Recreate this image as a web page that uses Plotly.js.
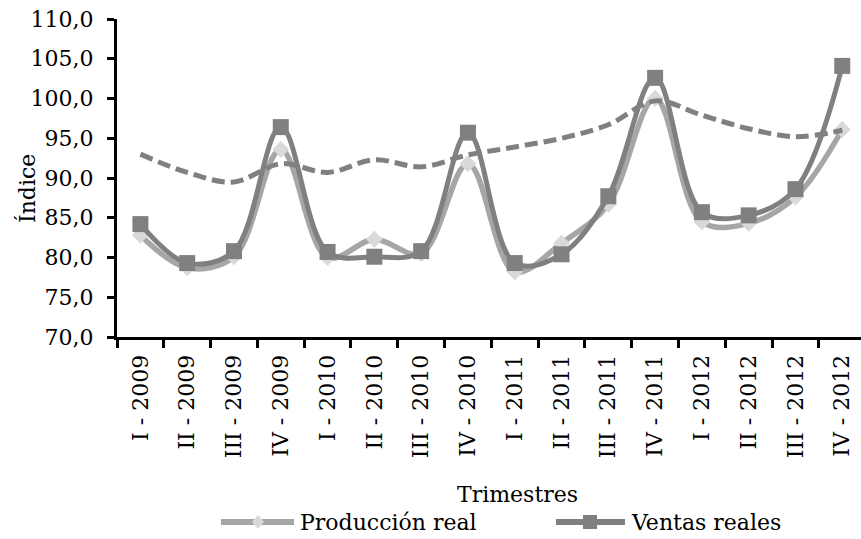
<!DOCTYPE html>
<html>
<head>
<meta charset="utf-8">
<script src="https://cdn.plot.ly/plotly-3.0.1.min.js"></script>
<style>html,body{margin:0;padding:0;background:#fff;}#chart{width:861px;height:539px;}</style>
</head>
<body>
<div id="chart"></div>
<script>
var categories = ["I - 2009","II - 2009","III - 2009","IV - 2009",
                  "I - 2010","II - 2010","III - 2010","IV - 2010",
                  "I - 2011","II - 2011","III - 2011","IV - 2011",
                  "I - 2012","II - 2012","III - 2012","IV - 2012"];
var produccionReal = [82.8, 78.7, 80.1, 93.6, 80.0, 82.3, 80.5, 91.8, 78.2, 81.8, 86.7, 100.0, 84.5, 84.3, 87.6, 96.1];
var ventasReales   = [84.2, 79.3, 80.8, 96.4, 80.7, 80.1, 80.8, 95.7, 79.3, 80.4, 87.7, 102.6, 85.7, 85.3, 88.6, 104.1];
var tendencia      = [93.0, 90.7, 89.5, 91.8, 90.7, 92.3, 91.4, 92.9, 93.9, 95.0, 96.7, 99.7, 97.9, 96.2, 95.2, 96.0];
var yTickVals = [70, 75, 80, 85, 90, 95, 100, 105, 110];
var seriesNames = ["Producción real", "Ventas reales"];
var xTitle = "Trimestres";
var yTitle = "Índice";

var FONT = "DejaVu Serif, serif";
var L = 117, T = 19, B = 202, W = 861, H = 539;
var PW = W - L, PH = H - T - B;
function px(x){ return (x - L) / PW; }
function py(y){ return (T + PH - y) / PH; }

var traces = [
  {x: categories, y: produccionReal, name: seriesNames[0], type: "scatter", mode: "lines+markers",
   line: {color: "#A6A6A6", width: 5.5, shape: "spline", smoothing: 1},
   marker: {symbol: "diamond", size: 13, color: "#D9D9D9", line: {width: 0}}, showlegend: false},
  {x: categories, y: ventasReales, name: seriesNames[1], type: "scatter", mode: "lines+markers",
   line: {color: "#808080", width: 5, shape: "spline", smoothing: 1},
   marker: {symbol: "square", size: 16, color: "#808080", line: {width: 0}}, showlegend: false},
  {x: categories, y: tendencia, name: "Tendencia", type: "scatter", mode: "lines",
   line: {color: "#808080", width: 5, shape: "spline", smoothing: 1, dash: "13px,6px"},
   showlegend: false}
];

var shapes = [
  {type: "line", xref: "paper", yref: "paper", x0: px(221), x1: px(294), y0: py(522), y1: py(522),
   line: {color: "#A6A6A6", width: 6}},
  {type: "path", xref: "paper", yref: "paper", xsizemode: "pixel", ysizemode: "pixel",
   xanchor: px(258), yanchor: py(522), path: "M0,-7 L6,0 L0,7 L-6,0 Z",
   fillcolor: "#D9D9D9", line: {width: 0}},
  {type: "line", xref: "paper", yref: "paper", x0: px(556), x1: px(625), y0: py(522), y1: py(522),
   line: {color: "#808080", width: 6}},
  {type: "rect", xref: "paper", yref: "paper", xsizemode: "pixel", ysizemode: "pixel",
   xanchor: px(590), yanchor: py(522), x0: -7, x1: 7, y0: -7, y1: 7,
   fillcolor: "#808080", line: {width: 0}}
];

var annotations = [
  {text: seriesNames[0], xref: "paper", yref: "paper", x: px(298), y: py(522), xanchor: "left", yanchor: "middle",
   showarrow: false, font: {family: FONT, size: 22, color: "#000"}},
  {text: seriesNames[1], xref: "paper", yref: "paper", x: px(629), y: py(522), xanchor: "left", yanchor: "middle",
   showarrow: false, font: {family: FONT, size: 22, color: "#000"}},
  {text: xTitle, xref: "paper", yref: "paper", x: px(517), y: py(494), xanchor: "center", yanchor: "middle",
   showarrow: false, font: {family: FONT, size: 22, color: "#000"}},
  {text: yTitle, xref: "paper", yref: "paper", x: px(27), y: py(189), xanchor: "center", yanchor: "middle",
   textangle: -90, showarrow: false, font: {family: FONT, size: 22, color: "#000"}}
];

var layout = {
  width: W, height: H,
  margin: {l: L, r: 0, t: T, b: B, pad: 0},
  paper_bgcolor: "#fff", plot_bgcolor: "#fff",
  separators: ",.",
  font: {family: FONT, size: 22, color: "#000"},
  showlegend: false,
  xaxis: {type: "category", range: [-0.5, 15.4], showgrid: false, zeroline: false,
          showline: true, linecolor: "#000", linewidth: 3,
          ticks: "outside", tickson: "boundaries", ticklen: 8, tickwidth: 3, tickcolor: "#000",
          tickangle: -90, ticklabelstandoff: 6,
          tickfont: {family: FONT, size: 22, color: "#000"}},
  yaxis: {range: [70, 110], tickvals: yTickVals, tickformat: ".1f", showgrid: false, zeroline: false,
          showline: true, linecolor: "#000", linewidth: 3,
          ticks: "outside", ticklen: 7, tickwidth: 3, tickcolor: "#000", ticklabelstandoff: 9,
          tickfont: {family: FONT, size: 22, color: "#000"}},
  shapes: shapes,
  annotations: annotations
};

Plotly.newPlot("chart", traces, layout, {staticPlot: true, displayModeBar: false});
</script>
</body>
</html>
